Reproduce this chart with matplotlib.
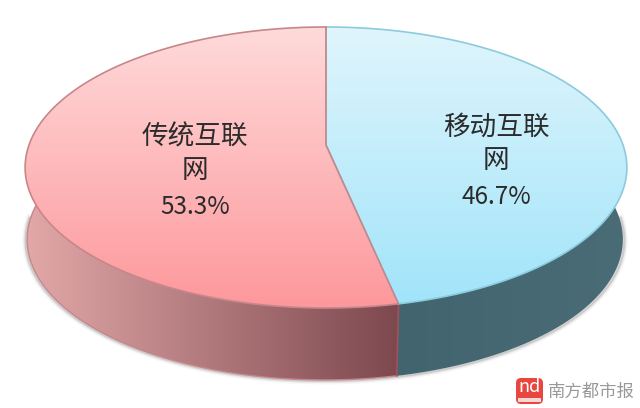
import numpy as np
import matplotlib
matplotlib.use('Agg')
import matplotlib.pyplot as plt
from matplotlib.path import Path
from matplotlib.patches import PathPatch, FancyBboxPatch, Rectangle

plt.rcParams['font.family'] = ['Noto Sans CJK SC', 'DejaVu Sans']

# data
labels = ['移动互联', '传统互联']
labels2 = ['网', '网']
shares = [46.7, 53.3]

# colours: top face (far, near), side face (left, right)
top_colors = [((224, 245, 252), (160, 228, 250)), ((255, 218, 218), (253, 152, 156))]
side_colors = [((66, 100, 110), (74, 108, 118)), ((226, 168, 168), (124, 72, 78))]
edge_colors = ['#8ccbdd', '#c8868a']

# pie geometry in pixels, the top disc is seen in perspective
CX, CY = 326, 145
R, K, A = 297, 0.16, -113.7
DEPTH = 72
BOTTOM_SCALE = 0.99
LABEL_X = [496, 195]
LABEL_Y = [(127, 160, 197), (137, 170, 207)]


def project(angle):
    # angle clockwise from the top of the disc
    u, v = np.sin(angle), np.cos(angle)
    w = 1 + K * v
    return CX + R * u / w, (CY + A * v) / w


def bottom_rim(angle):
    x, y = project(angle)
    return CX - 1 + (x - CX) * BOTTOM_SCALE, y + DEPTH


def gradient(ax, path, c0, c1, horizontal, box, z):
    t = np.linspace(0, 1, 256)
    rgb = np.outer(1 - t, c0) + np.outer(t, c1)
    img = (rgb / 255)[None, :, :] if horizontal else (rgb / 255)[:, None, :]
    im = ax.imshow(img, extent=(box[0], box[1], box[3], box[2]), aspect='auto', zorder=z, interpolation='bilinear')
    im.set_clip_path(PathPatch(path, transform=ax.transData))


fig = plt.figure(figsize=(6.4, 4.08), dpi=100)
ax = fig.add_axes([0, 0, 1, 1])

edges = np.concatenate([[0], np.cumsum(shares) / sum(shares)]) * 2 * np.pi

# soft shadow under the side wall
a = np.linspace(np.pi * 0.5, np.pi * 1.5, 200)
sx, sy = bottom_rim(a)
for lw, alpha in [(5, 0.05), (3, 0.10), (1.5, 0.18)]:
    ax.plot(sx + np.sin(a) * 1.5, sy + 1, color='#555555', alpha=alpha, lw=lw, zorder=1)

wall_range = [(0.35 * np.pi, edges[1]), (edges[1], 1.65 * np.pi)]
wall_box = [(397, 625), (27, 401)]

for i in range(2):
    a = np.linspace(edges[i], edges[i + 1], 300)
    x, y = project(a)

    # side wall, its far ends stay hidden behind the top face
    w = np.linspace(wall_range[i][0], wall_range[i][1], 300)
    tx, ty = project(w)
    bx, by = bottom_rim(w)
    verts = np.r_[np.c_[tx, ty], np.c_[bx, by][::-1]]
    wall = Path(np.r_[verts, verts[:1]], closed=True)
    gradient(ax, wall, np.array(side_colors[i][0]), np.array(side_colors[i][1]), True,
             (wall_box[i][0], wall_box[i][1], 0, 408), 2)
    if i == 1:
        ax.plot(bx, by, color=edge_colors[1], lw=1.0, zorder=3)
        ax.plot([tx[0], bx[0]], [ty[0], by[0]], color='#a0525a', lw=1.2, zorder=3)

    # top face
    verts = np.r_[[[CX, CY]], np.c_[x, y], [[CX, CY]]]
    face = Path(verts, closed=True)
    gradient(ax, face, np.array(top_colors[i][0]), np.array(top_colors[i][1]), False,
             (0, 640, 27, 308), 4)
    ax.add_patch(PathPatch(face, fc='none', ec=edge_colors[i], lw=1.2, zorder=5))

# slice labels
for i in range(2):
    ax.text(LABEL_X[i], LABEL_Y[i][0], labels[i], ha='center', va='center', fontsize=19.2,
            color='#2b2b2b', zorder=6)
    ax.text(LABEL_X[i], LABEL_Y[i][1], labels2[i], ha='center', va='center', fontsize=19.2,
            color='#2b2b2b', zorder=6)
    ax.text(LABEL_X[i], LABEL_Y[i][2], f'{shares[i]}%', ha='center', va='center', fontsize=17.5,
            color='#2b2b2b', zorder=6)

# newspaper logo
ax.add_patch(FancyBboxPatch((516, 378), 27, 26, boxstyle='round,pad=0,rounding_size=5',
                            fc='#e8473f', ec='none', zorder=6))
ax.add_patch(Rectangle((518, 398), 23, 4, fc='#f8d8d4', ec='none', zorder=7))
ax.text(529.5, 387.5, 'nd', ha='center', va='center', fontsize=13, style='italic', color='white', zorder=7)
ax.text(548, 392, '南方都市报', ha='left', va='center', fontsize=12.5, color='#999999', zorder=7)

ax.set_xlim(0, 640)
ax.set_ylim(408, 0)
ax.axis('off')
fig.savefig('out.png', dpi=100)
